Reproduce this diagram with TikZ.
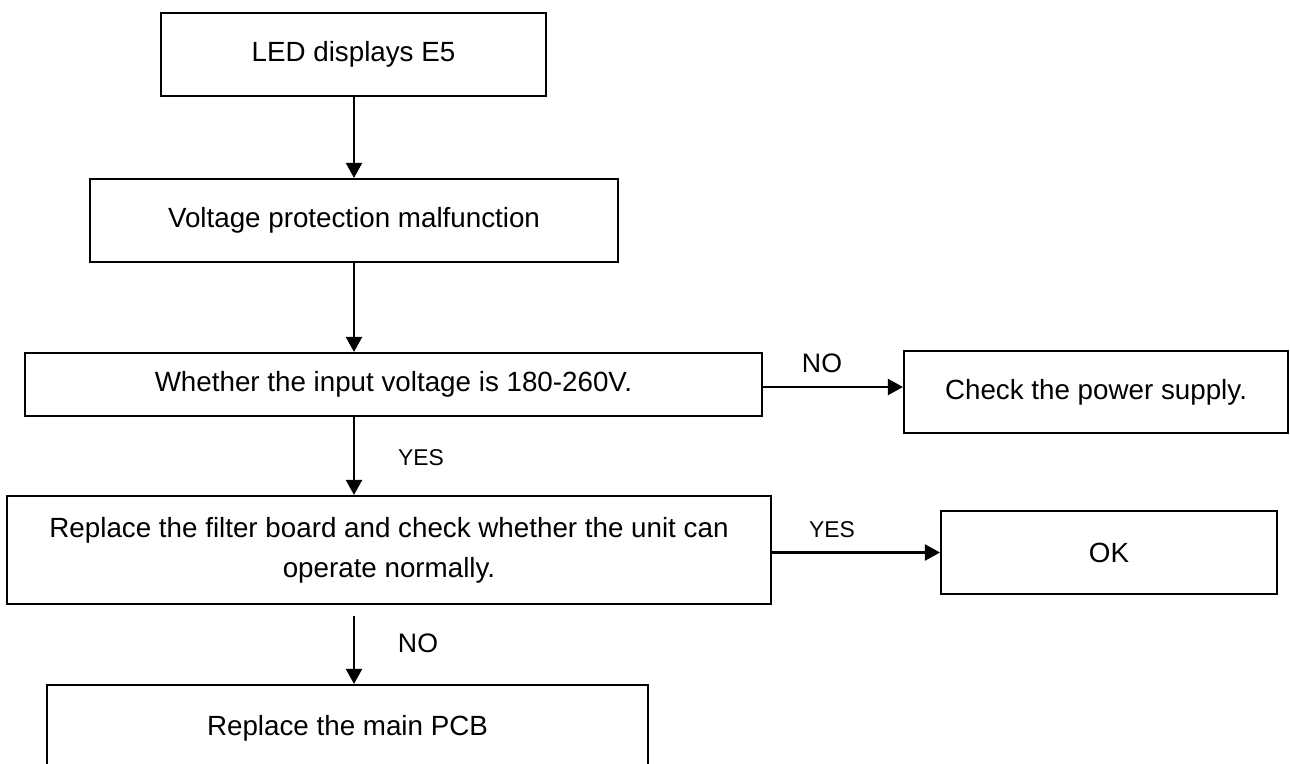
\documentclass[tikz,border=0pt]{standalone}
\usepackage{fontspec}
\setmainfont{Liberation Sans}
\usepackage{tikz}
\usepackage{xcolor}
\usetikzlibrary{arrows.meta,positioning,calc}
\definecolor{ink}{HTML}{000000}
\tikzset{
  flowbox/.style={draw=ink,fill=white,line width=1.2pt,align=center,inner sep=3pt,
                  font=\fontsize{15.8}{22.8}\selectfont,text=ink},
  flowarr/.style={-{Triangle[length=3mm,width=3.2mm]},line width=1.2pt,draw=ink},
  nolab/.style={font=\fontsize{15.2}{18}\selectfont,text=ink,inner sep=0pt},
  yeslab/.style={font=\fontsize{13}{16}\selectfont,text=ink,inner sep=0pt}
}

\begin{document}
\begin{tikzpicture}[x=1cm,y=1cm]
    \path[use as bounding box] (0,0) rectangle (25.8,-15.26);
    % main column
    \node[flowbox,minimum width=7.70cm,minimum height=1.66cm] (led) at (7.07,-1.09)
      {LED displays E5};
    \node[flowbox,minimum width=10.56cm,minimum height=1.66cm] (prot) at (7.08,-4.41)
      {Voltage protection malfunction};
    \node[flowbox,minimum width=14.74cm,minimum height=1.26cm] (volt) at (7.87,-7.69)
      {Whether the input voltage is 180-260V.};
    \node[flowbox,minimum width=15.28cm,minimum height=2.16cm] (filt) at (7.78,-11.00)
      {Replace the filter board and check whether the unit can\\operate normally.};
    \node[flowbox,minimum width=12.02cm,minimum height=1.72cm] (pcb) at (6.95,-14.56)
      {Replace the main PCB};
    % side boxes
    \node[flowbox,minimum width=7.68cm,minimum height=1.64cm] (power) at (21.92,-7.84)
      {Check the power supply.};
    \node[flowbox,minimum width=6.72cm,minimum height=1.66cm] (ok) at (22.18,-11.05)
      {OK};

    \draw[flowarr] (led.south -| prot.south) -- (prot.north);
    \draw[flowarr] (prot.south) -- (prot.south |- volt.north);
    \draw[flowarr] (volt.south -| prot.south) -- (filt.north -| prot.south);
    \draw[flowarr] ([yshift=-0.22cm]filt.south -| prot.south) -- (pcb.north -| prot.south);
    \draw[flowarr] ([yshift=-0.5mm]volt.east) -- ([yshift=-0.5mm]volt.east -| power.west);
    \draw[flowarr] (filt.east |- ok.west) -- (ok.west);

    \node[nolab] (nopow) at (16.44,-7.26) {NO};
    \node[yeslab] (yesfilt) at (8.42,-9.16) {YES};
    \node[yeslab] (yesok) at (16.64,-10.60) {YES};
    \node[nolab] (nopcb) at (8.36,-12.86) {NO};
\end{tikzpicture}
\end{document}
